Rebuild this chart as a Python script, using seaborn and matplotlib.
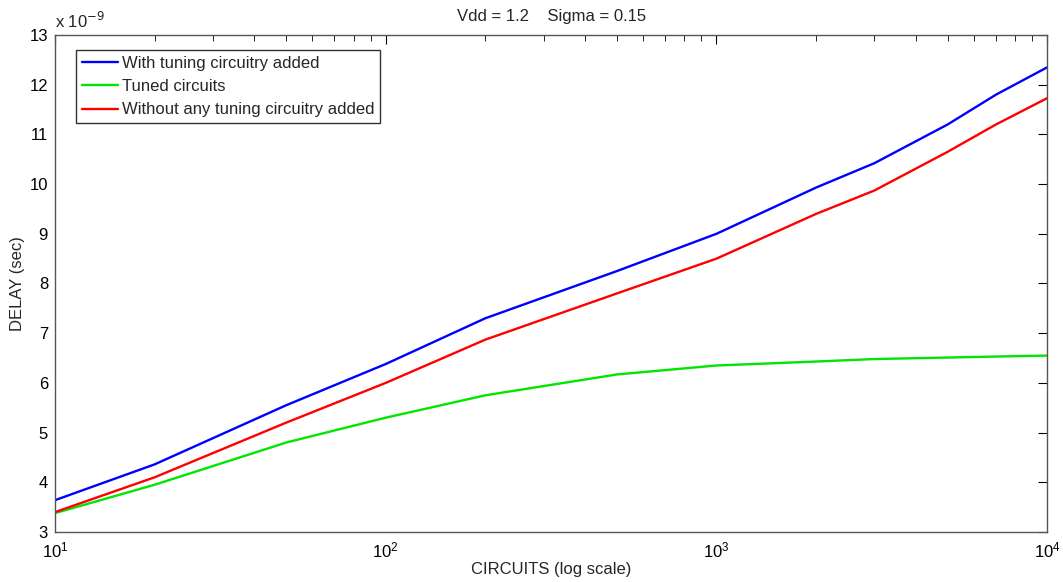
import pandas as pd
import matplotlib
matplotlib.use('Agg')
import matplotlib.pyplot as plt
import seaborn as sns

# circuits count (log x axis) and delay values in units of 1e-9 s
circuits = [10, 20, 50, 100, 200, 500, 1000, 2000, 3000, 5000, 7000, 10000]
with_tuning = [3.64, 4.36, 5.55, 6.38, 7.30, 8.25, 9.00, 9.93, 10.42, 11.20, 11.80, 12.35]
tuned = [3.38, 3.95, 4.80, 5.30, 5.75, 6.17, 6.35, 6.43, 6.48, 6.51, 6.53, 6.55]
without_tuning = [3.40, 4.10, 5.20, 6.00, 6.87, 7.80, 8.50, 9.40, 9.87, 10.65, 11.20, 11.73]

labels = ['With tuning circuitry added', 'Tuned circuits', 'Without any tuning circuitry added']
colors = ['#0000ff', '#00e600', '#ff0000']

df = pd.concat([
    pd.DataFrame({'circuits': circuits, 'delay': vals, 'series': lab})
    for vals, lab in zip([with_tuning, tuned, without_tuning], labels)
])

sns.set_style('white')
plt.rcParams['font.family'] = ['Liberation Sans', 'DejaVu Sans']

fig = plt.figure(figsize=(10.63, 5.82), dpi=100)
ax = fig.add_axes([0.0517, 0.0859, 0.9335, 0.854])

sns.lineplot(data=df, x='circuits', y='delay', hue='series', hue_order=labels,
             palette=colors, linewidth=1.7, ax=ax, legend=True)

ax.set_xscale('log')
ax.set_xlim(10, 10000)
ax.set_ylim(3, 13)
ax.set_yticks(range(3, 14))
ax.tick_params(direction='in', which='both', top=True, right=True, labelsize=12,
               colors='black', length=6.5)
ax.tick_params(which='minor', length=4.3)
ax.tick_params(axis='y', pad=5)
ax.tick_params(axis='x', pad=6)
for s in ax.spines.values():
    s.set_color('#555555')
    s.set_linewidth(1)

ax.set_xlabel('CIRCUITS (log scale)', fontsize=12, labelpad=1)
ax.set_ylabel('DELAY (sec)', fontsize=12, labelpad=3)
ax.set_title('Vdd = 1.2    Sigma = 0.15', fontsize=12, pad=10)
ax.text(0.0, 1.008, 'x 10$^{-9}$', transform=ax.transAxes, fontsize=12,
        ha='left', va='bottom')

leg = ax.legend(loc='upper left', bbox_to_anchor=(0.021, 0.97), fontsize=12,
                frameon=True, fancybox=False, edgecolor='black',
                handlelength=2.2, handletextpad=0.2, borderpad=0.35,
                labelspacing=0.5, borderaxespad=0)
leg.get_frame().set_linewidth(1)

fig.savefig('out.png', dpi=100)
